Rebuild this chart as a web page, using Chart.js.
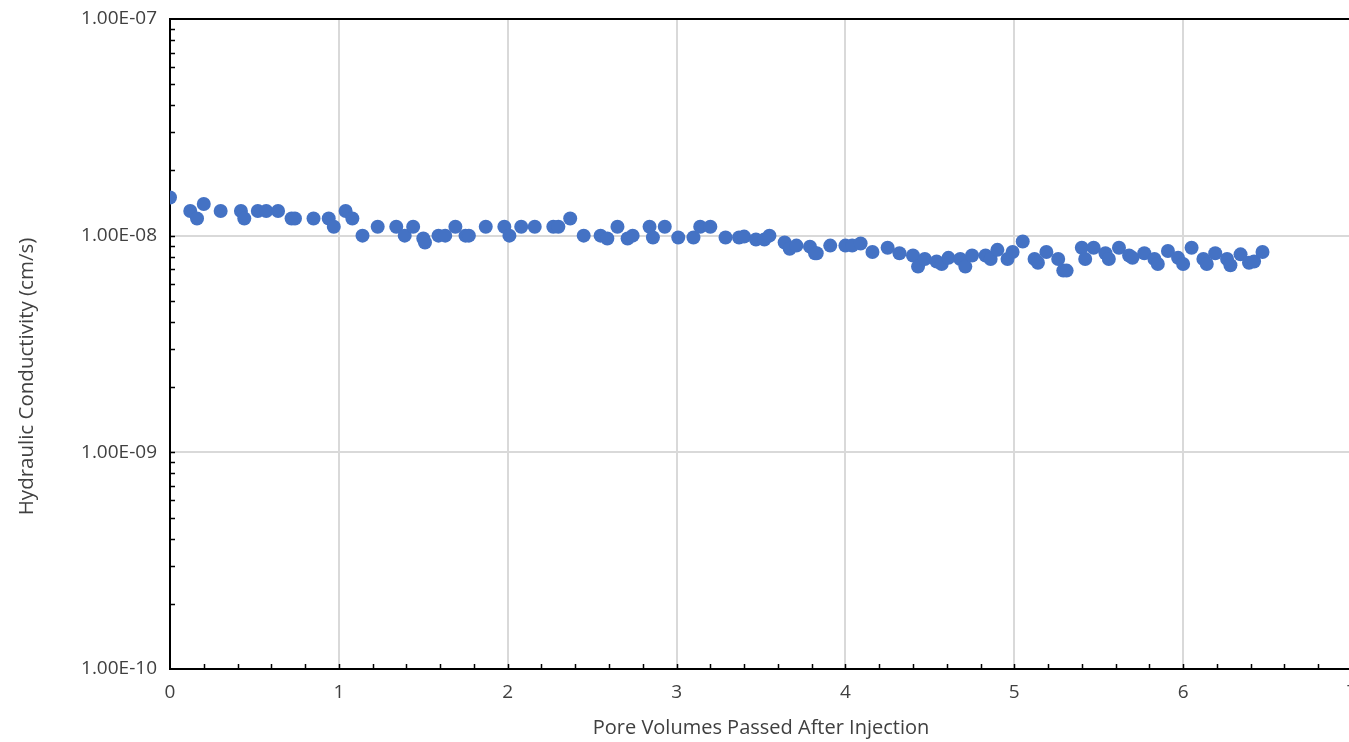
<!DOCTYPE html>
<html>
<head>
<meta charset="utf-8">
<title>Hydraulic Conductivity vs Pore Volumes</title>
<script src="https://cdn.jsdelivr.net/npm/chart.js@4.4.1/dist/chart.umd.min.js"></script>
<style>
  html, body { margin: 0; padding: 0; background: #fff; overflow: hidden; }
  canvas { display: block; }
</style>
</head>
<body>
<canvas id="kChart" width="1370" height="742"></canvas>
<script>
// Pore volumes passed (x) and measured hydraulic conductivity in cm/s (y)
const poreVolumes = [
  0.00, 0.12, 0.16, 0.20, 0.30, 0.42, 0.44, 0.52, 0.57, 0.64,
  0.72, 0.74, 0.85, 0.94, 0.97, 1.04, 1.08, 1.14, 1.23, 1.34,
  1.39, 1.44, 1.50, 1.51, 1.59, 1.63, 1.69, 1.75, 1.77, 1.87,
  1.98, 2.01, 2.08, 2.16, 2.27, 2.30, 2.37, 2.45, 2.55, 2.59,
  2.65, 2.71, 2.74, 2.84, 2.86, 2.93, 3.01, 3.10, 3.14, 3.20,
  3.29, 3.37, 3.40, 3.47, 3.52, 3.55, 3.64, 3.67, 3.71, 3.79,
  3.82, 3.83, 3.91, 4.00, 4.04, 4.09, 4.16, 4.25, 4.32, 4.40,
  4.43, 4.47, 4.54, 4.57, 4.61, 4.68, 4.71, 4.75, 4.83, 4.86,
  4.90, 4.96, 4.99, 5.05, 5.12, 5.14, 5.19, 5.26, 5.29, 5.31,
  5.40, 5.42, 5.47, 5.54, 5.56, 5.62, 5.68, 5.70, 5.77, 5.83,
  5.85, 5.91, 5.97, 6.00, 6.05, 6.12, 6.14, 6.19, 6.26, 6.28,
  6.34, 6.39, 6.42, 6.47
];
const conductivity = [
  1.5e-8, 1.3e-8, 1.2e-8, 1.4e-8, 1.3e-8, 1.3e-8, 1.2e-8, 1.3e-8, 1.3e-8, 1.3e-8,
  1.2e-8, 1.2e-8, 1.2e-8, 1.2e-8, 1.1e-8, 1.3e-8, 1.2e-8, 1.0e-8, 1.1e-8, 1.1e-8,
  1.0e-8, 1.1e-8, 0.97e-8, 0.93e-8, 1.0e-8, 1.0e-8, 1.1e-8, 1.0e-8, 1.0e-8, 1.1e-8,
  1.1e-8, 1.0e-8, 1.1e-8, 1.1e-8, 1.1e-8, 1.1e-8, 1.2e-8, 1.0e-8, 1.0e-8, 0.97e-8,
  1.1e-8, 0.97e-8, 1.0e-8, 1.1e-8, 0.98e-8, 1.1e-8, 0.98e-8, 0.98e-8, 1.1e-8, 1.1e-8,
  0.98e-8, 0.98e-8, 0.99e-8, 0.96e-8, 0.96e-8, 1.0e-8, 0.93e-8, 0.87e-8, 0.90e-8, 0.89e-8,
  0.83e-8, 0.83e-8, 0.90e-8, 0.90e-8, 0.90e-8, 0.92e-8, 0.84e-8, 0.88e-8, 0.83e-8, 0.81e-8,
  0.72e-8, 0.78e-8, 0.76e-8, 0.74e-8, 0.79e-8, 0.78e-8, 0.72e-8, 0.81e-8, 0.81e-8, 0.78e-8,
  0.86e-8, 0.78e-8, 0.84e-8, 0.94e-8, 0.78e-8, 0.75e-8, 0.84e-8, 0.78e-8, 0.69e-8, 0.69e-8,
  0.88e-8, 0.78e-8, 0.88e-8, 0.83e-8, 0.78e-8, 0.88e-8, 0.81e-8, 0.79e-8, 0.83e-8, 0.78e-8,
  0.74e-8, 0.85e-8, 0.79e-8, 0.74e-8, 0.88e-8, 0.78e-8, 0.74e-8, 0.83e-8, 0.78e-8, 0.73e-8,
  0.82e-8, 0.75e-8, 0.76e-8, 0.84e-8
];
const xTickValues = [0, 1, 2, 3, 4, 5, 6, 7];
const yDecades = [1e-10, 1e-9, 1e-8, 1e-7];

const FONT = "'Open Sans', 'Liberation Sans', sans-serif";
const TEXT_COLOR = '#404040';
const AXIS_COLOR = '#000000';
const GRID_COLOR = '#d9d9d9';
const Y_TITLE = 'Hydraulic Conductivity (cm/s)';

// 1.00E-08 style labels
function sciLabel(v) {
  const exp = Math.round(Math.log10(v));
  const mant = v / Math.pow(10, exp);
  const sign = exp < 0 ? '-' : '+';
  const e = String(Math.abs(exp)).padStart(2, '0');
  return mant.toFixed(2) + 'E' + sign + e;
}

// short inward tick marks: 0.2 steps on x, 2..9 per decade on y
const innerTicks = {
  id: 'innerTicks',
  beforeDatasetsDraw(chart) {
    const { ctx, scales: { x, y } } = chart;
    const area = chart.chartArea;
    ctx.save();
    ctx.strokeStyle = AXIS_COLOR;
    ctx.lineWidth = 1.5;
    ctx.beginPath();
    for (let i = 1; i <= 35; i++) {
      const px = Math.round(x.getPixelForValue(i * 0.2)) + 0.5;
      ctx.moveTo(px, area.bottom);
      ctx.lineTo(px, area.bottom - 5);
    }
    for (let d = -10; d < -7; d++) {
      for (let m = 1; m <= 9; m++) {
        if (m === 1 && d === -10) continue;
        const py = Math.round(y.getPixelForValue(m * Math.pow(10, d))) + 0.5;
        ctx.moveTo(area.left, py);
        ctx.lineTo(area.left + 5, py);
      }
    }
    ctx.stroke();
    ctx.restore();
  }
};

// y axis title, sitting a little below the middle of the plot
const yTitle = {
  id: 'yTitle',
  afterDraw(chart) {
    const { ctx, chartArea: area } = chart;
    ctx.save();
    ctx.translate(27, area.top + (area.bottom - area.top) * 0.55);
    ctx.rotate(-Math.PI / 2);
    ctx.fillStyle = TEXT_COLOR;
    ctx.font = "20.5px " + FONT;
    ctx.textAlign = 'center';
    ctx.textBaseline = 'middle';
    ctx.fillText(Y_TITLE, 0, 0);
    ctx.restore();
  }
};

const ctx = document.getElementById('kChart');

new Chart(ctx, {
  type: 'scatter',
  data: {
    datasets: [{
      label: 'Hydraulic Conductivity',
      data: poreVolumes.map((pv, i) => ({ x: pv, y: conductivity[i] })),
      backgroundColor: '#4472c4',
      borderWidth: 0,
      pointRadius: 7,
      pointHoverRadius: 7
    }]
  },
  options: {
    responsive: false,
    animation: false,
    layout: { padding: { top: 19, right: 18, bottom: 0, left: 0 } },
    plugins: {
      legend: { display: false },
      tooltip: { enabled: false }
    },
    scales: {
      x: {
        type: 'linear',
        min: 0,
        max: 7,
        afterBuildTicks(scale) {
          scale.ticks = xTickValues.map(v => ({ value: v }));
        },
        afterFit(scale) {
          scale.height = 73;
          scale.paddingLeft = 0;
          scale.paddingRight = 0;
        },
        ticks: {
          color: TEXT_COLOR,
          padding: 12,
          maxRotation: 0,
          font: { family: FONT, size: 19 }
        },
        grid: {
          color: GRID_COLOR,
          lineWidth: 2,
          drawTicks: false
        },
        border: { color: AXIS_COLOR, width: 2 },
        title: {
          display: true,
          text: 'Pore Volumes Passed After Injection',
          color: TEXT_COLOR,
          font: { family: FONT, size: 20 },
          padding: { top: 4, bottom: 2 }
        }
      },
      y: {
        type: 'logarithmic',
        min: 1e-10,
        max: 1e-7,
        afterBuildTicks(scale) {
          scale.ticks = yDecades.map(v => ({ value: v, major: true }));
        },
        afterFit(scale) {
          scale.width = 170;
          scale.paddingTop = 0;
          scale.paddingBottom = 0;
        },
        ticks: {
          color: TEXT_COLOR,
          padding: 13,
          font: { family: FONT, size: 19 },
          callback: v => sciLabel(v)
        },
        grid: {
          color: c => (c.tick && c.tick.value >= 1e-7 * 0.999 ? AXIS_COLOR : GRID_COLOR),
          lineWidth: 2,
          drawTicks: false
        },
        border: { color: AXIS_COLOR, width: 2 },
        title: { display: false }
      }
    }
  },
  plugins: [innerTicks, yTitle]
});
</script>
</body>
</html>
